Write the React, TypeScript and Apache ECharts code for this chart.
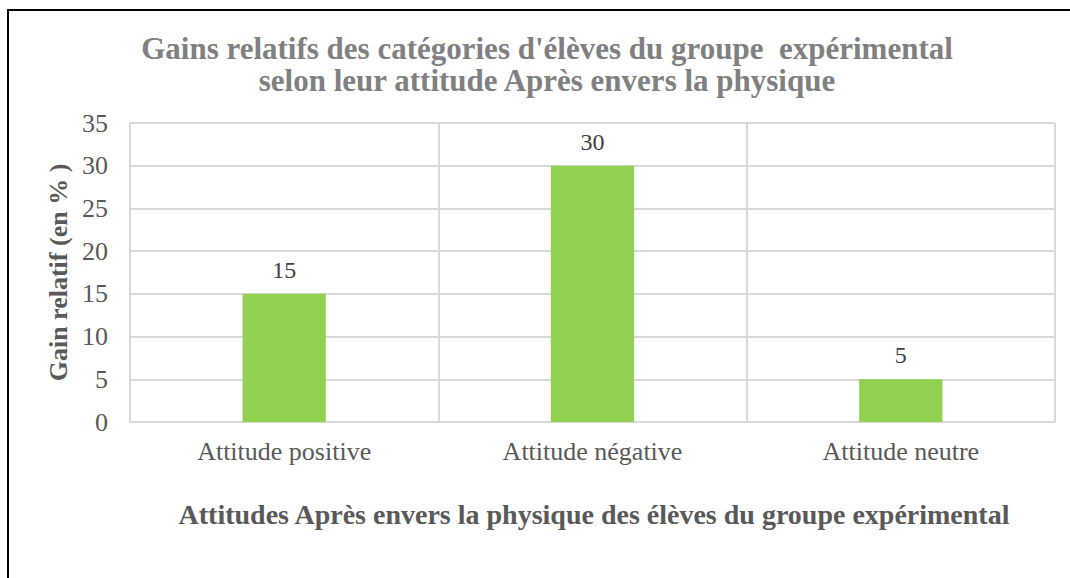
import React, { useEffect, useRef } from "react";
import * as echarts from "echarts";

const categories = ["Attitude positive", "Attitude négative", "Attitude neutre"];
const gains = [15, 30, 5];
const titleLines = [
  "Gains relatifs des catégories d'élèves du groupe  expérimental",
  "selon leur attitude Après envers la physique",
];
const yAxisName = "Gain relatif (en % )";
const xAxisName = "Attitudes Après envers la physique des élèves du groupe expérimental";

const FONT = "Liberation Serif";

export default function App() {
  const ref = useRef<HTMLDivElement>(null);
  useEffect(() => {
    document.body.style.margin = "0";
    const chart = echarts.init(ref.current!, null, { renderer: "svg" });
    chart.setOption({
      animation: false,
      backgroundColor: "#ffffff",
      textStyle: { fontFamily: FONT },
      title: {
        text: titleLines.join("\n"),
        left: 542,
        textAlign: "center",
        top: 27,
        textStyle: {
          fontFamily: FONT,
          fontSize: 31,
          fontWeight: "bold",
          color: "#808080",
          lineHeight: 32,
        },
      },
      graphic: [
        {
          type: "rect",
          shape: { x: 8, y: 10, width: 1100, height: 620 },
          style: { fill: "none", stroke: "#000000", lineWidth: 2 },
          silent: true,
        },
        {
          type: "text",
          x: 594,
          y: 514,
          style: {
            text: xAxisName,
            fontFamily: FONT,
            fontSize: 28,
            fontWeight: "bold",
            fill: "#595959",
            textAlign: "center",
            textVerticalAlign: "middle",
          },
        },
      ],
      grid: { left: 130, right: 15, top: 123, bottom: 156, containLabel: false },
      xAxis: {
        type: "category",
        data: categories,
        axisLine: { show: true, lineStyle: { color: "#d9d9d9", width: 2 } },
        axisTick: { show: false },
        splitLine: { show: true, lineStyle: { color: "#d9d9d9", width: 2 } },
        axisLabel: {
          color: "#595959",
          fontFamily: FONT,
          fontSize: 26,
          margin: 16,
        },
      },
      yAxis: {
        type: "value",
        min: 0,
        max: 35,
        interval: 5,
        name: yAxisName,
        nameLocation: "middle",
        nameGap: 59,
        nameTextStyle: {
          fontFamily: FONT,
          fontSize: 26,
          fontWeight: "bold",
          color: "#595959",
        },
        axisLine: { show: true, lineStyle: { color: "#d9d9d9", width: 2 } },
        axisTick: { show: false },
        splitLine: { show: true, lineStyle: { color: "#d9d9d9", width: 2 } },
        axisLabel: {
          color: "#595959",
          fontFamily: FONT,
          fontSize: 26,
          margin: 22,
        },
      },
      series: [
        {
          type: "bar",
          data: gains,
          barWidth: "27%",
          itemStyle: { color: "#92D050" },
          label: {
            show: true,
            position: "top",
            distance: 12,
            color: "#404040",
            fontFamily: FONT,
            fontSize: 24,
          },
        },
      ],
    });
    return () => chart.dispose();
  }, []);
  return (
    <div
      ref={ref}
      style={{ position: "absolute", left: 0, top: 0, width: 1070, height: 578 }}
    />
  );
}
